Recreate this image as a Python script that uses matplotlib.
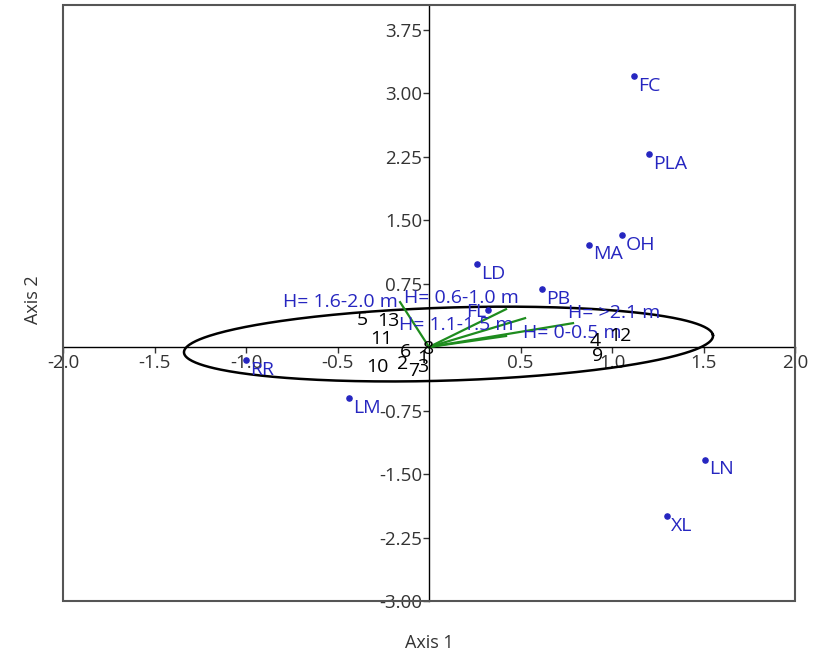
import numpy as np
import matplotlib
matplotlib.use("Agg")
import matplotlib.pyplot as plt
from matplotlib.patches import Rectangle
from matplotlib.ticker import FixedLocator, FormatStrFormatter

plt.rcParams['font.family'] = ['Open Sans', 'DejaVu Sans']

# species (blue dots)
species = ['FC', 'PLA', 'OH', 'MA', 'LD', 'PB', 'FL', 'RR', 'LM', 'LN', 'XL']
sp_x = [1.12, 1.20, 1.055, 0.874, 0.262, 0.617, 0.322, -1.0, -0.437, 1.508, 1.30]
sp_y = [3.20, 2.28, 1.318, 1.21, 0.976, 0.682, 0.435, -0.153, -0.60, -1.33, -2.0]

# samples (black numbers)
samples = ['1', '2', '3', '4', '5', '6', '7', '8', '9', '10', '11', '12', '13']
sa_x = [-0.033, -0.142, -0.033, 0.907, -0.366, -0.131, -0.082, -0.005, 0.923, -0.284, -0.262, 1.044, -0.224]
sa_y = [-0.129, -0.200, -0.235, 0.070, 0.318, -0.059, -0.282, -0.024, -0.106, -0.235, 0.094, 0.129, 0.306]

# environmental vectors (green)
env = ['H= 0-0.5 m', 'H= 0.6-1.0 m', 'H= 1.1-1.5 m', 'H= 1.6-2.0 m', 'H= >2.1 m']
env_x = [0.787, 0.421, 0.421, -0.158, 0.525]
env_y = [0.282, 0.447, 0.130, 0.530, 0.341]
env_lab_x = [0.514, -0.137, -0.164, -0.170, 0.760]
env_lab_y = [0.165, 0.576, 0.259, 0.530, 0.400]
env_ha = ['left', 'left', 'left', 'right', 'left']

# ellipse
ell_cx, ell_cy = 0.1065, 0.035
ell_a, ell_b = 1.449, 0.43
ell_ang = np.arctan2(0.106, 1.4455)

xticks = [-2.0, -1.5, -1.0, -0.5, 0.5, 1.0, 1.5, 2.0]
yticks = [-3.0, -2.25, -1.5, -0.75, 0.75, 1.5, 2.25, 3.0, 3.75]

blue = '#2626c0'
green = '#1e8c1e'
tickc = '#333333'
fs = 14

fig = plt.figure(figsize=(8.13, 6.59), dpi=100)
ax = fig.add_axes([63/813, 1-601/659, (795-63)/813, (601-5)/659])
ax.set_xlim(-2.0, 2.0)
ax.set_ylim(-3.0, 4.04)

for s in ['top', 'right']:
    ax.spines[s].set_visible(False)
ax.spines['left'].set_position(('data', 0))
ax.spines['bottom'].set_position(('data', 0))
ax.spines['left'].set_color('black')
ax.spines['bottom'].set_color('black')
ax.spines['left'].set_linewidth(1.0)
ax.spines['bottom'].set_linewidth(1.0)
ax.add_patch(Rectangle((0, 0), 1, 1, transform=ax.transAxes, fill=False,
                       ec='#555555', lw=1.5, clip_on=False, zorder=5))

ax.xaxis.set_major_locator(FixedLocator(xticks))
ax.yaxis.set_major_locator(FixedLocator(yticks))
ax.xaxis.set_major_formatter(FormatStrFormatter('%.1f'))
ax.yaxis.set_major_formatter(FormatStrFormatter('%.2f'))
ax.tick_params(direction='out', length=4, width=1, colors=tickc, labelsize=13.5, pad=1)

# ellipse
t = np.linspace(0, 2*np.pi, 400)
ex = ell_cx + ell_a*np.cos(t)*np.cos(ell_ang) - ell_b*np.sin(t)*np.sin(ell_ang)
ey = ell_cy + ell_a*np.cos(t)*np.sin(ell_ang) + ell_b*np.sin(t)*np.cos(ell_ang)
ax.plot(ex, ey, color='black', lw=1.8, zorder=3)

# vectors
for i in range(len(env)):
    ax.plot([0, env_x[i]], [0, env_y[i]], color=green, lw=1.6, zorder=3)
    ax.text(env_lab_x[i], env_lab_y[i], env[i], color=blue, fontsize=fs,
            ha=env_ha[i], va='center', zorder=4)

# species
ax.scatter(sp_x, sp_y, s=14, color=blue, zorder=4)
for i in range(len(species)):
    if species[i] == 'FL':
        ax.annotate(species[i], (sp_x[i], sp_y[i]), xytext=(-1, -1), textcoords='offset points',
                    ha='right', va='center', color=blue, fontsize=fs)
    else:
        ax.annotate(species[i], (sp_x[i], sp_y[i]), xytext=(3, -7), textcoords='offset points',
                    ha='left', va='center', color=blue, fontsize=fs)

# samples
for i in range(len(samples)):
    ax.text(sa_x[i], sa_y[i], samples[i], color='black', fontsize=fs,
            ha='center', va='center', zorder=4)

fig.text(429/813, 1-643/659, 'Axis 1', ha='center', va='center', fontsize=13, color=tickc)
fig.text(33/813, 1-300/659, 'Axis 2', ha='center', va='center', fontsize=13, color=tickc,
         rotation=90)

fig.savefig('out.png', dpi=100)
